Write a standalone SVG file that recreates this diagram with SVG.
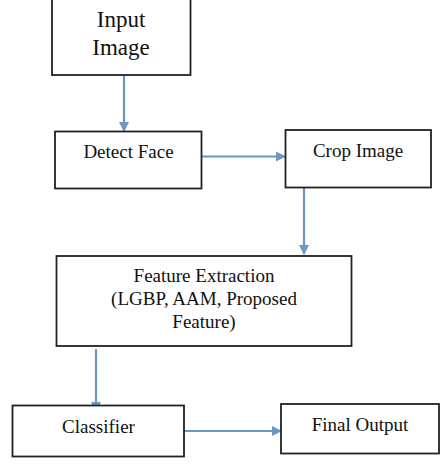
<svg xmlns="http://www.w3.org/2000/svg" width="441" height="465" viewBox="0 0 441 465">
<defs>
<marker id="ah" markerWidth="10" markerHeight="10" refX="9" refY="5" orient="auto" markerUnits="userSpaceOnUse">
<path d="M0,0 L10,5 L0,10 Z" fill="#6b96c6"/>
</marker>
<style>
.box{fill:#fff;stroke:#222;stroke-width:1.8}
.t{font-family:'Liberation Serif','Times New Roman',Tinos,'DejaVu Serif','Noto Serif',serif;fill:#111;text-anchor:middle;font-size:19px}
.big{font-size:23px}
.c{fill:none;stroke:#6b96c6;stroke-width:2.2;marker-end:url(#ah)}
</style>
</defs>
<rect width="441" height="465" fill="#fff"/>
<g id="connectors">
<line class="c" x1="124" y1="75" x2="124" y2="131"/>
<line class="c" x1="202" y1="156.5" x2="285" y2="156.5"/>
<line class="c" x1="304" y1="188" x2="304" y2="254"/>
<line class="c" x1="96" y1="349" x2="96" y2="411"/>
<line class="c" x1="181" y1="431" x2="281" y2="431"/>
</g>
<g id="input">
<rect class="box" x="52" y="-5" width="138.5" height="80"/>
<text class="t big" x="121" y="27" font-family="Liberation Serif, serif">Input</text>
<text class="t big" x="121" y="55" font-family="Liberation Serif, serif">Image</text>
</g>
<g id="detect">
<rect class="box" x="55" y="131.5" width="146.5" height="57"/>
<text class="t" x="128.5" y="158" font-family="Liberation Serif, serif">Detect Face</text>
</g>
<g id="crop">
<rect class="box" x="285.5" y="130" width="145.5" height="57.5"/>
<text class="t" x="358" y="157" font-family="Liberation Serif, serif">Crop Image</text>
</g>
<g id="feature">
<rect class="box" x="56.5" y="256" width="295" height="90"/>
<text class="t" x="204" y="281.5" font-family="Liberation Serif, serif">Feature Extraction</text>
<text class="t" x="204" y="305" font-family="Liberation Serif, serif">(LGBP, AAM, Proposed</text>
<text class="t" x="204" y="328" font-family="Liberation Serif, serif">Feature)</text>
</g>
<g id="classifier">
<rect class="box" x="12.5" y="405.5" width="171.5" height="51"/>
<text class="t" x="98.5" y="432.5" font-family="Liberation Serif, serif">Classifier</text>
</g>
<g id="final">
<rect class="box" x="281" y="404" width="158" height="49.5"/>
<text class="t" x="360" y="430.5" font-family="Liberation Serif, serif">Final Output</text>
</g>
</svg>
